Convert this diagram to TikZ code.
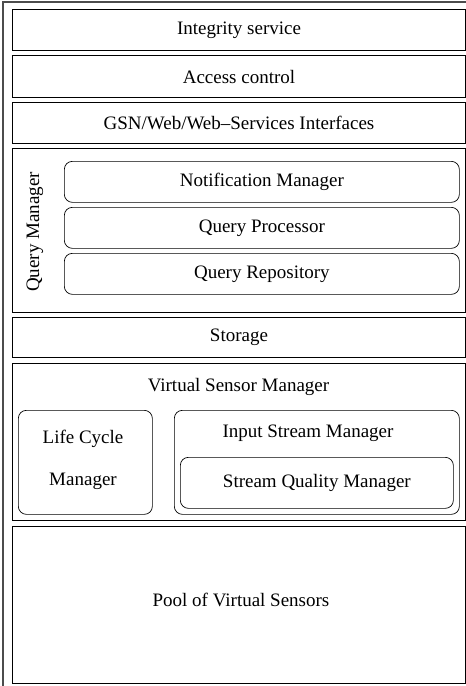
\documentclass[tikz,border=0pt]{standalone}
\usepackage{fontspec}
\setmainfont{Liberation Serif}
\begin{document}
\begin{tikzpicture}[x=1pt,y=-1pt,
    font=\fontsize{19}{23}\selectfont,
    layer/.style={draw,line width=1pt,anchor=north west,inner sep=0pt,minimum width=453pt},
    module/.style={draw,line width=0.7pt,rounded corners=8pt,anchor=north west,inner sep=0pt}]
    \useasboundingbox (0,0) rectangle (466,686);
    %outer frame
    \draw[line width=1.2pt,black!70] (466,2) -- (3,2) -- (3,686);

    %upper layers
    \node[layer,minimum height=41pt] (integrity) at (12,9) {Integrity service};
    \node[layer,minimum height=42pt] (access)    at (12,55) {Access control};
    \node[layer,minimum height=41pt] (gsn)       at (12,102) {GSN/Web/Web--Services Interfaces};

    %Query Manager
    \node[layer,minimum height=164pt] (qm) at (12,148) {};
    \node[rotate=90] (qmlabel) at (35,232) {Query Manager};
    \node[module,minimum width=395pt,minimum height=41pt] (notif) at (64,161) {Notification Manager};
    \node[module,minimum width=395pt,minimum height=41pt] (qproc) at (64,207) {Query Processor};
    \node[module,minimum width=395pt,minimum height=41pt] (qrepo) at (64,253) {Query Repository};

    \node[layer,minimum height=40pt] (storage) at (12,317) {Storage};

    %Virtual Sensor Manager
    \node[layer,minimum height=157pt] (vsm) at (12,363) {};
    \node (vsmlabel) at (238.5,387) {Virtual Sensor Manager};
    \node[module,minimum width=134pt,minimum height=104pt] (lcm) at (18,410) {};
    \node[align=center] (lcmlabel) at (83,460) {Life Cycle\\[19pt]Manager};
    \node[module,minimum width=285pt,minimum height=104pt] (ism) at (174,410) {};
    \node (ismlabel) at (308,433) {Input Stream Manager};
    \node[module,minimum width=273pt,minimum height=51pt] (sqm) at (180,457) {Stream Quality Manager};

    %Pool
    \node[layer,minimum height=157pt] (pool) at (12,526) {};
    \node (poollabel) at (241,600) {Pool of Virtual Sensors};
\end{tikzpicture}
\end{document}
